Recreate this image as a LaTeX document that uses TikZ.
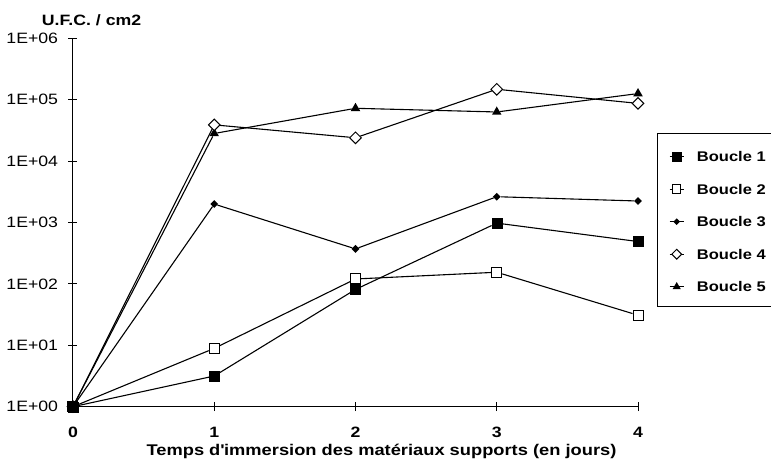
\documentclass[tikz,border=0pt]{standalone}
\usepackage{fontspec}
\setmainfont[FakeStretch=1.18]{Liberation Sans}
\usetikzlibrary{shapes.geometric}
\tikzstyle{courbe}=[line width=1.1pt]
\tikzstyle{axe}=[line width=1pt]
\tikzstyle{carrenoir}=[rectangle,draw,fill=black,minimum size=10pt,inner sep=0pt]
\tikzstyle{carreblanc}=[rectangle,draw,fill=white,line width=1pt,minimum size=10pt,inner sep=0pt]
\tikzstyle{losangenoir}=[diamond,fill=black,minimum size=8pt,inner sep=0pt]
\tikzstyle{losangeblanc}=[diamond,draw,fill=white,line width=1pt,minimum size=12pt,inner sep=0pt]
\tikzstyle{trianglenoir}=[regular polygon,regular polygon sides=3,fill=black,minimum size=11pt,inner sep=0pt]
\tikzstyle{etiquette}=[inner sep=0pt,font=\fontsize{15}{17}\selectfont]
\pgfmathsetmacro{\jour}{141.25}
\pgfmathsetmacro{\decade}{61.4}
\newcommand{\drawboucle}[3]{
  % #1 nom, #2 marqueur, #3 log10 des valeurs aux jours 0..4
  \foreach \v [count=\i from 0] in {#3} {
    \node[#2] (#1-\i) at (\jour*\i, \decade*\v) {};
  }
  \foreach \i [remember=\i as \j (initially 0)] in {1,2,3,4} {
    \draw[courbe] (#1-\j) -- (#1-\i);
  }
}
\begin{document}
\begin{tikzpicture}[x=1pt,y=1pt]
  \useasboundingbox (-73,-54.3) rectangle (698,406.7);
  % axes
  \draw[axe] (0,0) -- (0,6*\decade);
  \draw[axe] (0,0) -- (4*\jour,0);
  \foreach \k in {0,...,6} {
    \draw[axe] (-4.5,\decade*\k) -- (4.5,\decade*\k);
    \node[etiquette,anchor=east] (ey-\k) at (-14.7,\decade*\k) {1E+0\k};
  }
  \foreach \i in {0,...,4} {
    \draw[axe] (\jour*\i,-4.5) -- (\jour*\i,4.5);
    \node[etiquette,font=\fontsize{15}{17}\selectfont\bfseries] (ex-\i) at (\jour*\i,-25.3) {\i};
  }
  \node[etiquette,anchor=base west,font=\fontsize{15}{17}\selectfont\bfseries] (titrey) at (-31.3,380.7) {U.F.C. / cm2};
  \node[etiquette,anchor=base,font=\fontsize{15.5}{17}\selectfont\bfseries] (titrex) at (308.5,-48.3) {Temps d\textquotesingle immersion des matériaux supports (en jours)};
  % courbes
  \drawboucle{b5}{trianglenoir}{0,4.45,4.86,4.80,5.10}
  \drawboucle{b4}{losangeblanc}{0,4.59,4.38,5.17,4.94}
  \drawboucle{b3}{losangenoir}{0,3.30,2.57,3.42,3.35}
  \drawboucle{b2}{carreblanc}{0,0.95,2.08,2.19,1.49}
  \drawboucle{b1}{carrenoir}{0,0.50,1.91,2.99,2.69}
  % legende
  \draw[axe] (698,272.7) -- (584.3,272.7) -- (584.3,100.7) -- (698,100.7);
  \foreach \m [count=\k] in {carrenoir,carreblanc,losangenoir,losangeblanc,trianglenoir} {
    \draw[courbe] (596.7,282.5-32.5*\k) -- (610.7,282.5-32.5*\k);
    \node[\m,scale=0.85] (leg-\k) at (603.7,282.5-32.5*\k) {};
    \node[etiquette,anchor=west,font=\fontsize{14}{16}\selectfont\bfseries] (legt-\k) at (623.7,282.5-32.5*\k) {Boucle \k};
  }
\end{tikzpicture}
\end{document}
